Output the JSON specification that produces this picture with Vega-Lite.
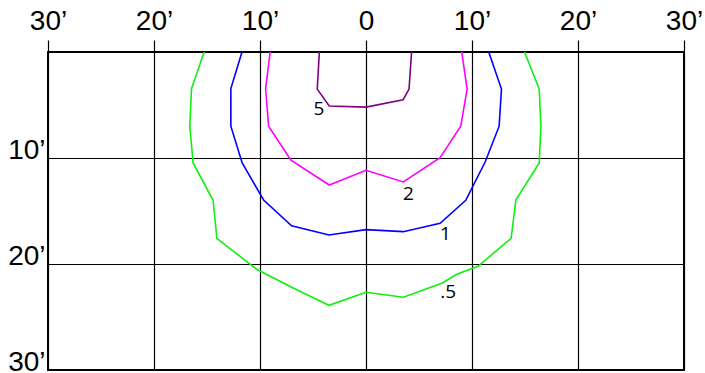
{
  "$schema": "https://vega.github.io/schema/vega-lite/v6.json",
  "autosize": {"type": "none"},
  "width": 636,
  "height": 318,
  "padding": {"left": 48, "top": 52, "right": 21, "bottom": 3},
  "background": "white",
  "config": {
    "view": {"stroke": "black", "strokeWidth": 2},
    "axis": {
      "labelFont": "Liberation Sans",
      "labelFontSize": 28,
      "labelColor": "black",
      "gridColor": "black",
      "gridWidth": 1.2,
      "gridOpacity": 1,
      "domain": false,
      "title": null
    }
  },
  "datasets": {
    "curves": [
      {"c": "5", "i": 0, "x": -4.4, "y": 0},
      {"c": "5", "i": 1, "x": -4.6, "y": 3.5},
      {"c": "5", "i": 2, "x": -3.47, "y": 5.1},
      {"c": "5", "i": 3, "x": 0, "y": 5.2},
      {"c": "5", "i": 4, "x": 3.5, "y": 4.5},
      {"c": "5", "i": 5, "x": 4.06, "y": 3.5},
      {"c": "5", "i": 6, "x": 4.3, "y": 0},

      {"c": "2", "i": 0, "x": -9.04, "y": 0},
      {"c": "2", "i": 1, "x": -9.47, "y": 3.45},
      {"c": "2", "i": 2, "x": -9.19, "y": 7.0},
      {"c": "2", "i": 3, "x": -7.08, "y": 10.2},
      {"c": "2", "i": 4, "x": -3.47, "y": 12.55},
      {"c": "2", "i": 5, "x": 0, "y": 11.16},
      {"c": "2", "i": 6, "x": 3.52, "y": 12.26},
      {"c": "2", "i": 7, "x": 6.99, "y": 9.96},
      {"c": "2", "i": 8, "x": 8.94, "y": 7.0},
      {"c": "2", "i": 9, "x": 9.54, "y": 3.5},
      {"c": "2", "i": 10, "x": 9.03, "y": 0},

      {"c": "1", "i": 0, "x": -11.7, "y": 0},
      {"c": "1", "i": 1, "x": -12.75, "y": 3.45},
      {"c": "1", "i": 2, "x": -12.75, "y": 7.0},
      {"c": "1", "i": 3, "x": -11.68, "y": 10.47},
      {"c": "1", "i": 4, "x": -9.66, "y": 13.96},
      {"c": "1", "i": 5, "x": -7.02, "y": 16.4},
      {"c": "1", "i": 6, "x": -3.49, "y": 17.26},
      {"c": "1", "i": 7, "x": 0, "y": 16.76},
      {"c": "1", "i": 8, "x": 3.52, "y": 16.95},
      {"c": "1", "i": 9, "x": 6.99, "y": 16.16},
      {"c": "1", "i": 10, "x": 9.41, "y": 13.99},
      {"c": "1", "i": 11, "x": 11.24, "y": 10.38},
      {"c": "1", "i": 12, "x": 12.56, "y": 7.0},
      {"c": "1", "i": 13, "x": 12.78, "y": 3.49},
      {"c": "1", "i": 14, "x": 11.58, "y": 0},

      {"c": ".5", "i": 0, "x": -15.27, "y": 0},
      {"c": ".5", "i": 1, "x": -16.46, "y": 3.45},
      {"c": ".5", "i": 2, "x": -16.62, "y": 7.0},
      {"c": ".5", "i": 3, "x": -16.31, "y": 10.47},
      {"c": ".5", "i": 4, "x": -14.42, "y": 13.99},
      {"c": ".5", "i": 5, "x": -14.07, "y": 17.58},
      {"c": ".5", "i": 6, "x": -10.32, "y": 20.5},
      {"c": ".5", "i": 7, "x": -7.02, "y": 22.2},
      {"c": ".5", "i": 8, "x": -3.49, "y": 23.9},
      {"c": ".5", "i": 9, "x": 0, "y": 22.67},
      {"c": ".5", "i": 10, "x": 3.52, "y": 23.14},
      {"c": ".5", "i": 11, "x": 7.15, "y": 21.82},
      {"c": ".5", "i": 12, "x": 8.56, "y": 20.97},
      {"c": ".5", "i": 13, "x": 10.6, "y": 20.19},
      {"c": ".5", "i": 14, "x": 13.69, "y": 17.58},
      {"c": ".5", "i": 15, "x": 14.14, "y": 13.96},
      {"c": ".5", "i": 16, "x": 16.34, "y": 10.47},
      {"c": ".5", "i": 17, "x": 16.5, "y": 7.0},
      {"c": ".5", "i": 18, "x": 16.34, "y": 3.49},
      {"c": ".5", "i": 19, "x": 14.95, "y": 0}
    ],
    "labels": [
      {"c": "5", "x": -4.44, "y": 5.34},
      {"c": "2", "x": 4.0, "y": 13.42},
      {"c": "1", "x": 7.5, "y": 17.13},
      {"c": ".5", "x": 7.75, "y": 22.66}
    ]
  },
  "layer": [
    {
      "data": {"name": "curves"},
      "mark": {"type": "line", "strokeWidth": 1.6, "clip": true},
      "encoding": {
        "x": {
          "field": "x", "type": "quantitative",
          "scale": {"domain": [-30, 30], "nice": false, "zero": false},
          "axis": {
            "orient": "top",
            "values": [-30, -20, -10, 0, 10, 20, 30],
            "labelExpr": "datum.value === 0 ? '0' : abs(datum.value) + '’'",
            "tickSize": 12,
            "tickColor": "black",
            "tickWidth": 1.2,
            "labelPadding": 11,
            "labelBaseline": "alphabetic",
            "labelFlush": false,
            "labelOverlap": false
          }
        },
        "y": {
          "field": "y", "type": "quantitative",
          "scale": {"domain": [0, 30], "reverse": true, "nice": false, "zero": false},
          "axis": {
            "orient": "left",
            "values": [10, 20, 30],
            "labelExpr": "datum.value + '’'",
            "ticks": false,
            "tickSize": 0,
            "labelPadding": 3,
            "labelBaseline": "alphabetic",
            "labelAlign": "right",
            "labelFlush": false,
            "labelOverlap": false
          }
        },
        "order": {"field": "i", "type": "quantitative"},
        "color": {
          "field": "c", "type": "nominal",
          "scale": {"domain": ["5", "2", "1", ".5"], "range": ["#800080", "#ff00ff", "#0000ff", "#11ee11"]},
          "legend": null
        }
      }
    },
    {
      "data": {"name": "labels"},
      "mark": {"type": "text", "font": "Open Sans", "fontSize": 19, "color": "black", "align": "center", "baseline": "middle"},
      "encoding": {
        "x": {"field": "x", "type": "quantitative"},
        "y": {"field": "y", "type": "quantitative"},
        "text": {"field": "c"}
      }
    }
  ]
}
